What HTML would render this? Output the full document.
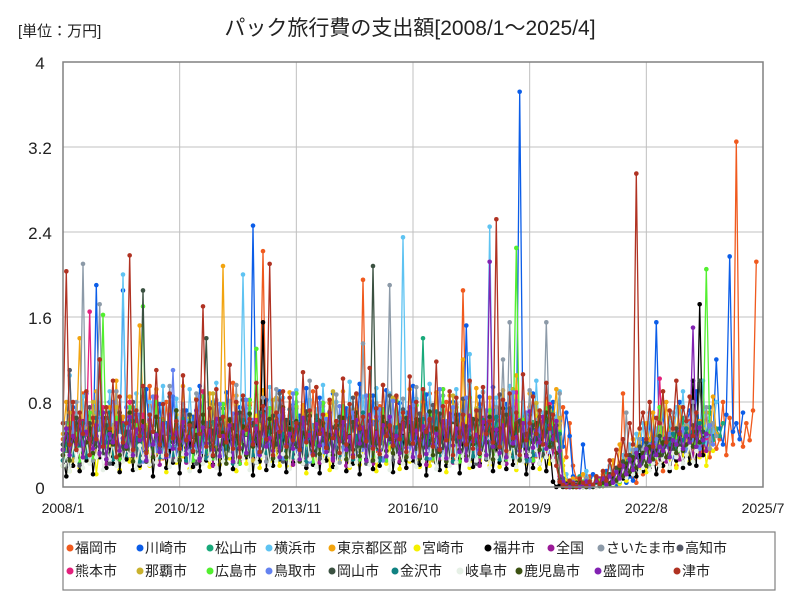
<!DOCTYPE html>
<html><head><meta charset="utf-8">
<style>
body{margin:0;background:#fff;}
#wrap{position:relative;width:800px;height:600px;overflow:hidden;font-family:"Liberation Sans Narrow","Liberation Sans","Noto Sans CJK JP",sans-serif;}
</style></head>
<body>
<div id="wrap">
<svg id="svg" width="800" height="600" xmlns="http://www.w3.org/2000/svg"></svg>
</div>
<script>
const seriesNames=["福岡市","川崎市","松山市","横浜市","東京都区部","宮崎市","福井市","全国","さいたま市","高知市","熊本市","那覇市","広島市","鳥取市","岡山市","金沢市","岐阜市","鹿児島市","盛岡市","津市"];
const seriesColors=["#f05a1e","#0b5de8","#19a97a","#5ec3f2","#f2a40f","#f5f000","#000000","#9b1a98","#8c9aa8","#545866","#e3207c","#c9b22e","#52ef2f","#6482f0","#3b5141","#108282","#e6f0e6","#3c5212","#8222b2","#b03222"];
const xTickLabels=["2008/1","2010/12","2013/11","2016/10","2019/9","2022/8","2025/7"];
const yTickLabels=["0","0.8","1.6","2.4","3.2","4"];
const yTickValues=[0,0.8,1.6,2.4,3.2,4];
// values in units of 0.01 万円, monthly from 2008/1
const s0=[45,30,52,20,60,35,88,40,25,55,30,70,48,22,65,38,90,42,28,50,33,75,44,26,58,36,95,40,30,62,27,80,45,35,55,29,70,48,24,66,38,85,41,32,57,30,72,46,25,60,36,98,43,28,54,34,77,45,31,59,222,40,29,63,37,82,44,27,52,33,74,47,30,58,35,90,41,26,61,38,79,45,32,56,30,71,48,28,65,36,195,43,29,53,34,76,46,31,58,37,84,42,27,60,33,73,45,30,57,35,88,40,28,62,37,80,44,26,55,32,185,47,31,59,36,78,43,29,54,34,70,46,30,61,38,92,41,27,56,33,75,45,29,58,35,83,52,30,66,41,75,28,60,20,8,4,2,5,10,3,0,6,12,4,2,8,15,5,88,6,20,10,4,30,12,25,18,40,22,35,15,48,28,55,20,38,45,30,62,25,50,42,33,70,28,58,36,45,80,30,65,40,325,52,38,60,44,72,212];
const s1=[35,60,28,75,40,55,30,88,45,25,190,38,62,30,80,42,58,33,185,48,27,70,36,65,30,92,44,55,32,78,40,60,29,85,47,52,35,72,38,66,31,95,43,57,30,80,41,63,28,89,46,54,34,75,39,68,32,246,45,56,33,82,40,61,30,90,45,55,35,77,38,67,31,93,42,58,29,84,41,62,33,88,46,53,36,74,40,69,30,97,44,57,31,86,39,64,28,91,47,52,35,79,38,70,32,95,43,59,30,87,41,65,29,92,46,54,34,80,39,68,31,152,44,58,33,85,40,63,30,94,45,56,36,78,38,71,32,372,43,60,30,88,41,66,29,55,33,80,45,62,38,70,48,10,5,2,40,8,3,12,6,2,4,15,3,8,2,5,20,4,10,6,30,15,45,25,60,35,155,40,70,30,50,65,45,80,38,58,72,42,90,50,62,35,75,48,120,55,40,68,217,52,60,45,70];
const s2=[25,50,30,45,60,22,40,55,35,70,28,48,62,33,42,58,27,52,66,30,45,60,35,50,72,28,44,57,38,64,31,49,70,26,55,41,63,34,47,59,29,53,68,32,46,61,36,51,74,27,43,56,39,65,30,48,69,33,54,42,62,35,46,58,28,52,67,31,45,60,37,50,73,29,44,57,38,63,32,49,71,26,55,40,64,34,47,59,30,53,66,33,46,61,36,51,72,28,43,56,39,65,31,48,70,33,54,42,140,35,46,58,28,52,67,31,45,60,37,50,73,29,44,57,38,63,32,49,71,26,55,40,64,34,47,59,30,53,66,33,46,61,36,40,62,28,55,70,33,48,8,3,0,5,2,10,4,0,6,3,8,2,5,12,4,15,6,20,10,25,15,30,20,40,25,35,45,28,50,38,55,30,60,42,48,35,65,40,52,45,58,38,62,50,70,44,55,48,60];
const s3=[60,35,105,40,70,30,85,45,55,32,78,42,65,38,90,48,58,34,200,44,68,36,88,50,62,33,80,46,72,39,95,41,57,35,83,49,66,31,92,43,60,37,86,47,74,34,98,45,63,36,81,50,69,32,200,44,58,38,87,46,71,33,94,42,64,35,84,48,67,31,91,44,59,37,82,47,73,34,96,43,62,36,80,49,68,32,99,41,57,38,85,46,70,33,93,45,61,35,88,48,66,31,235,43,60,37,83,47,72,34,97,44,63,36,86,50,69,32,92,42,58,38,125,46,70,33,90,45,245,35,84,48,67,31,95,44,59,37,80,47,73,34,100,45,70,38,85,52,66,90,5,12,2,6,0,8,3,15,4,2,10,5,3,8,20,6,12,4,30,10,40,20,50,35,60,28,70,40,55,30,80,45,65,38,75,50,90,42,60,55,70,48,100,40,65,52,80];
const s4=[50,80,30,65,45,140,35,70,55,28,90,40,60,32,75,48,100,38,66,30,85,44,58,152,78,42,62,34,92,46,56,31,80,40,68,36,95,45,57,33,83,47,64,35,88,42,59,30,208,44,61,37,86,46,63,34,79,41,60,32,91,48,65,35,84,43,58,30,89,45,62,36,77,42,67,33,94,47,56,31,82,44,60,35,90,41,63,32,87,46,57,34,81,43,66,30,96,45,59,36,85,42,61,33,92,48,58,31,80,44,64,35,89,41,62,32,86,46,57,34,120,43,65,30,93,45,60,36,84,42,63,33,91,48,58,31,105,44,61,35,88,41,59,66,38,80,45,57,92,40,20,6,2,8,0,4,12,3,6,2,10,5,15,8,3,25,6,40,12,30,20,45,35,55,25,60,40,70,32,50,45,80,38,65,52,75,42,58,48,90,40,62,55,70,45,85,50];
const s5=[20,40,15,35,50,18,30,45,25,60,12,38,55,22,42,28,65,16,36,48,24,52,30,18,44,58,20,34,46,26,62,14,40,53,23,37,29,66,17,33,49,25,56,31,19,43,60,21,35,47,27,63,15,39,54,22,41,28,67,18,32,50,24,57,30,20,45,59,19,36,46,26,64,13,38,52,23,42,29,68,16,34,48,25,55,31,18,44,61,21,33,47,27,62,15,40,53,22,37,28,65,17,35,49,24,58,30,19,43,60,20,36,46,26,63,14,39,51,23,41,29,66,18,32,50,25,56,31,20,45,58,19,34,47,27,64,16,38,52,22,42,28,67,17,30,48,22,55,35,60,25,3,0,2,5,0,1,4,2,0,3,6,1,8,2,4,10,3,15,6,20,12,25,18,30,14,35,22,28,40,20,32,26,45,18,38,30,50,24,36,42,28,55,20,40,34];
const s6=[30,10,45,20,55,15,38,25,60,12,40,28,50,18,35,22,65,14,42,26,48,16,58,20,36,24,52,10,44,30,62,18,37,23,47,13,56,27,41,19,66,15,34,25,50,21,59,12,43,29,46,17,53,22,39,28,63,11,45,24,155,16,57,20,38,26,49,14,61,23,35,27,54,18,42,21,64,13,46,25,51,19,36,28,58,15,40,22,47,12,60,26,44,17,55,20,37,29,62,14,41,23,48,18,56,25,39,21,65,11,43,27,50,16,53,20,36,24,60,13,45,28,46,19,58,22,40,26,63,15,38,23,52,17,57,21,42,29,48,12,35,18,50,22,44,15,40,5,0,2,0,3,1,0,4,2,0,1,5,0,3,6,2,8,4,10,5,15,8,20,12,25,10,30,15,22,18,35,12,28,20,40,15,32,25,45,18,38,22,100,20,172,30];
const s7=[40,25,55,32,48,20,62,35,45,28,58,30,50,22,65,38,42,26,60,33,52,24,68,36,46,29,57,31,49,21,63,37,44,27,59,34,53,23,66,39,41,25,61,32,51,20,64,35,47,28,56,30,50,22,67,38,43,26,58,33,54,24,62,36,45,29,60,31,48,21,65,37,42,27,57,34,52,23,68,39,46,25,59,32,50,20,63,35,44,28,61,30,53,22,66,38,41,26,56,33,49,24,64,36,47,29,58,31,51,21,62,37,43,27,60,34,55,23,67,39,45,25,57,32,52,20,65,35,42,28,59,30,48,22,63,38,46,26,61,33,54,24,45,30,58,36,50,27,62,10,3,0,5,2,0,4,1,6,0,3,2,8,1,5,12,4,18,8,22,12,28,16,35,20,30,25,40,22,38,28,45,24,42,30,50,26,36,32,48,28,55,30,44,34,50];
const s8=[30,60,20,45,80,35,210,40,55,25,70,172,48,30,65,38,90,28,52,42,75,33,58,22,85,45,60,35,72,28,50,40,95,30,62,36,78,25,55,44,88,32,68,27,53,41,82,34,63,29,57,38,96,26,66,43,74,31,59,37,84,24,51,45,92,33,70,28,56,39,80,30,64,42,100,27,54,35,76,32,61,46,87,23,58,40,73,36,67,29,135,44,52,31,79,38,62,34,190,26,69,41,83,30,57,37,94,28,65,45,71,33,60,39,86,25,53,42,78,36,72,29,98,31,56,44,89,27,64,35,75,40,120,30,155,38,81,34,59,43,91,26,63,70,35,155,48,62,30,88,8,2,0,5,3,0,2,8,4,1,0,6,3,10,2,15,5,20,10,70,15,35,25,45,30,55,20,40,35,60,28,50,45,70,32,58,40,65,38,80,42,55,50,75,36,60,48];
const s9=[25,45,110,30,60,20,50,35,75,28,40,55,32,65,22,48,38,70,26,52,42,80,30,45,58,24,68,36,50,28,62,40,85,25,55,34,72,30,47,60,22,66,38,53,27,78,33,44,57,29,64,37,49,26,82,31,46,59,23,70,35,51,28,63,41,88,24,54,36,74,29,48,61,21,67,39,52,27,79,32,43,56,30,65,38,50,25,84,33,47,58,22,71,36,53,28,62,40,86,26,55,35,73,31,45,60,23,69,37,50,27,77,34,44,57,29,66,39,51,24,83,32,48,59,22,72,35,54,28,64,41,87,25,56,37,75,30,46,61,24,68,38,52,60,32,48,70,38,55,28,8,2,0,4,1,0,3,6,0,2,5,1,7,3,10,4,15,8,20,12,28,18,35,22,30,26,40,24,45,30,38,35,50,28,42,40,55,32,48,44,60,36,52,48,58];
const s10=[35,55,25,70,40,30,60,45,165,28,50,38,75,32,58,42,65,26,48,36,80,30,55,44,68,24,52,40,85,34,62,28,47,39,72,31,57,43,66,25,50,37,90,33,60,27,46,41,78,29,54,35,69,23,53,45,82,36,63,30,44,38,74,32,59,42,67,27,49,34,88,28,56,40,71,24,51,46,79,33,64,31,45,37,76,30,58,43,70,26,48,35,86,29,61,39,73,25,52,44,81,34,65,32,47,36,77,28,57,41,68,27,50,38,92,30,62,33,75,24,55,45,84,35,60,29,46,40,72,31,59,42,66,26,53,37,89,28,63,39,70,25,49,38,62,30,78,44,56,34,5,1,0,3,0,2,5,1,0,4,2,6,1,3,8,2,12,5,18,10,24,14,30,20,26,35,22,40,28,102,32,45,30,38,48,34,55,36,42,50,40,60,44,46,52];
const s11=[30,50,70,25,45,60,35,55,40,80,28,48,65,38,52,42,75,30,58,44,68,26,50,62,36,56,46,85,32,54,64,40,49,43,72,29,60,47,66,27,53,59,37,57,45,88,33,51,63,39,48,41,78,31,61,48,67,25,55,58,35,59,44,82,34,52,65,38,46,42,76,28,62,49,69,26,54,57,36,58,45,90,32,50,64,40,47,43,73,30,60,46,70,27,56,61,37,55,48,84,33,53,66,39,49,41,77,29,63,47,68,25,51,59,35,57,44,86,31,52,62,38,48,42,74,30,61,50,71,26,55,58,36,56,46,92,34,54,63,40,50,43,79,44,60,35,72,50,40,65,5,2,0,4,1,3,0,6,2,1,5,3,8,2,12,4,16,8,20,12,26,18,32,22,28,36,24,42,30,38,90,34,45,40,50,36,48,44,55,40,52,48,60];
const s12=[20,40,60,30,50,25,45,35,70,28,55,38,162,32,48,42,65,26,52,36,75,30,58,44,170,24,50,40,80,34,62,28,46,38,72,30,56,42,68,25,53,37,85,33,60,27,47,41,78,29,54,35,69,22,51,45,82,36,130,30,44,38,74,32,59,42,67,27,49,34,88,28,56,40,71,24,51,46,79,33,64,31,45,37,76,30,58,43,70,26,48,35,86,29,61,39,73,25,52,44,81,34,65,32,47,36,77,28,57,41,68,27,50,38,92,30,62,33,75,24,55,45,84,35,60,29,46,40,72,31,59,42,66,26,53,37,225,28,63,39,70,25,49,58,36,74,42,60,30,52,4,1,0,3,0,2,5,1,0,4,2,6,1,3,8,2,12,5,18,10,24,14,30,20,26,35,22,40,28,75,32,45,30,38,48,34,55,36,42,50,40,60,44,205,52];
const s13=[30,45,25,60,35,50,40,70,28,55,38,65,32,48,42,80,26,52,36,75,30,58,44,68,24,50,40,85,34,62,28,46,38,110,30,56,42,68,25,53,37,85,33,60,27,47,41,78,29,54,35,69,22,51,45,82,36,63,30,44,38,74,32,59,42,67,27,49,34,88,28,56,40,71,24,51,46,79,33,64,31,45,37,76,30,58,43,70,26,48,35,86,29,61,39,73,25,52,44,81,34,65,32,47,36,77,28,57,41,68,27,50,38,92,30,62,33,75,24,55,45,84,35,60,29,46,40,72,31,59,42,66,26,53,37,89,28,63,39,70,25,49,30,55,40,68,33,50,62,38,6,2,0,4,1,0,3,6,0,2,5,1,7,3,10,4,15,8,20,12,28,18,35,22,30,26,40,24,45,30,38,35,50,28,42,40,55,32,48,44,60,36,52,48,58,40];
const s14=[40,25,55,30,65,35,50,28,60,45,38,120,32,58,42,48,26,70,36,52,30,62,44,40,185,24,55,38,66,34,47,28,60,42,50,32,57,25,68,39,45,30,61,140,35,53,27,64,41,49,33,58,23,70,37,46,29,60,43,51,31,56,26,67,40,48,34,63,28,54,38,59,22,71,36,45,30,62,44,50,32,55,27,66,42,47,35,61,29,57,39,52,24,208,38,44,31,60,45,49,33,58,25,65,41,46,36,63,27,53,40,56,23,69,37,48,28,59,43,51,30,57,26,64,42,47,34,60,29,54,38,55,24,68,36,45,32,62,44,50,31,58,45,66,30,52,75,40,58,7,2,0,3,1,0,5,2,0,4,1,6,3,8,2,12,6,18,10,24,15,30,20,26,38,22,42,28,36,32,48,30,40,45,34,55,38,44,50,42,58,46,100,52];
const s15=[25,40,55,30,45,35,60,28,50,38,65,32,48,42,70,26,52,36,58,30,62,44,46,24,55,40,68,34,50,28,60,38,47,30,56,42,64,25,53,37,72,33,49,27,61,41,54,29,66,35,51,22,58,45,63,36,48,30,57,38,69,32,52,42,59,27,50,34,73,28,55,40,62,24,51,46,67,33,53,31,60,37,49,30,58,43,65,26,48,35,70,29,54,39,62,25,52,44,66,34,56,32,47,36,61,28,57,41,64,27,50,38,71,30,55,33,60,24,55,45,68,35,53,29,46,40,63,31,59,42,66,26,53,37,74,28,56,39,60,25,49,30,54,48,35,62,40,55,30,50,6,2,0,4,1,3,0,5,2,1,4,2,7,3,10,4,14,8,20,12,26,18,32,22,28,36,24,42,30,38,34,45,40,50,36,48,44,55,40,52,48,60,42];
const s16=[20,30,15,40,25,35,18,45,22,38,28,50,16,34,26,42,20,48,24,36,30,52,17,39,27,44,21,55,23,33,29,46,19,41,25,37,31,49,15,43,28,35,22,53,26,40,18,47,24,32,30,51,20,38,27,45,16,54,23,36,29,42,21,48,25,34,31,50,17,44,28,39,22,56,26,37,19,46,24,33,30,52,18,40,27,43,20,49,23,35,29,41,21,55,25,38,31,47,16,45,28,36,22,53,26,42,19,50,24,34,30,48,17,39,27,44,20,57,23,37,29,43,21,51,25,35,31,46,18,40,28,38,22,54,26,41,19,49,24,33,30,47,35,22,44,28,38,25,40,5,1,0,2,0,1,3,0,2,1,4,0,2,5,1,8,3,12,6,15,9,20,12,24,14,18,28,16,22,30,20,26,34,18,32,28,36,22,30,38,24,34];
const s17=[30,50,25,45,35,60,28,42,55,32,48,38,65,26,52,40,58,30,46,36,70,24,54,44,62,34,50,28,66,38,47,30,56,42,72,25,53,37,60,33,49,27,68,41,54,29,58,35,51,22,63,45,48,36,57,30,69,38,52,32,59,42,64,27,50,34,75,28,55,40,62,24,51,46,67,33,53,31,60,37,49,30,58,43,65,26,48,35,70,29,54,39,62,25,52,44,66,34,56,32,47,36,61,28,57,41,64,27,50,38,71,30,55,33,60,24,55,45,68,35,53,29,46,40,63,31,59,42,66,26,53,37,74,28,56,39,60,25,49,30,54,42,60,35,52,70,38,48,32,5,1,0,3,0,2,4,1,0,3,2,5,1,4,8,3,12,6,18,10,22,14,28,18,24,32,20,38,26,34,30,42,28,36,40,32,48,34,40,45,38,52,42,46,50];
const s18=[35,55,30,48,40,62,28,52,45,36,58,32,70,26,50,42,60,34,46,38,66,30,54,44,57,25,63,40,49,33,59,28,68,36,51,43,61,31,47,39,72,27,56,41,53,35,64,29,48,45,58,24,69,37,52,32,60,42,55,30,67,38,46,34,62,28,73,40,50,36,57,26,65,44,49,31,59,39,54,33,70,27,52,43,61,35,47,30,63,41,56,25,68,38,51,34,58,29,66,42,48,32,60,37,75,28,53,44,57,31,64,40,50,36,62,27,69,39,55,33,59,26,67,43,49,35,61,30,212,38,54,32,58,28,65,41,47,34,60,29,71,37,53,42,66,36,58,45,62,34,5,2,0,4,1,0,3,5,1,2,6,3,8,2,10,4,14,8,20,12,26,16,32,20,28,36,24,40,30,38,34,46,28,44,40,52,36,48,42,150,38,56,44,50];
const s19=[60,203,40,80,35,70,50,90,30,65,45,120,38,75,55,100,28,85,42,60,218,35,72,48,95,32,68,52,110,40,78,30,88,46,62,36,105,44,58,34,82,50,170,38,74,30,92,48,66,42,115,36,80,28,86,54,64,40,98,33,76,45,210,30,70,52,90,38,84,44,60,35,108,42,72,30,94,50,68,37,82,46,62,32,102,40,78,28,88,55,66,43,112,36,74,31,96,48,58,39,86,45,70,33,104,41,80,29,92,52,64,38,118,35,76,44,90,30,84,47,68,40,100,36,72,32,94,50,62,42,252,38,82,34,88,46,70,30,106,44,60,85,50,72,40,98,55,68,20,5,2,0,6,3,0,8,4,1,5,2,10,3,15,6,25,12,35,20,45,30,60,40,295,55,70,45,80,38,65,60,90,42,72,55,100,50,75,62,85,48,70];
const seriesData=[s0,s1,s2,s3,s4,s5,s6,s7,s8,s9,s10,s11,s12,s13,s14,s15,s16,s17,s18,s19];
const NS="http://www.w3.org/2000/svg";
const svg=document.getElementById('svg');
const PL=63,PR=763,PT=62,PB=487;
const MONTHS=210;
function xScale(i){return PL+i*(PR-PL)/MONTHS;}
function yScale(v){return PB-v/4*(PB-PT);}
function mk(tag,attrs,parent){const e=document.createElementNS(NS,tag);for(const k in attrs)e.setAttribute(k,attrs[k]);(parent||svg).appendChild(e);return e;}
const ff='"Liberation Sans Narrow","Liberation Sans","Noto Sans CJK JP",sans-serif';
let t=mk('text',{x:18,y:36,'font-size':15,'font-family':ff,fill:'#222'});


t.textContent='[単位：万円]';
t=mk('text',{x:410,y:35,'font-size':21,'font-family':ff,fill:'#222','text-anchor':'middle'});


t.textContent='パック旅行費の支出額[2008/1～2025/4]';
const grid=mk('g',{});


yTickValues.forEach((v,k)=>{
  const y=yScale(v);
  mk('line',{x1:PL,x2:PR,y1:y,y2:y,stroke:'#c0c0c0','stroke-width':1},grid);
  const tl=mk('text',{x:40,y:y+7,'font-size':17,'font-family':ff,fill:'#222','text-anchor':'middle'});
  
  
  tl.textContent=yTickLabels[k];
});
xTickLabels.forEach((lab,k)=>{
  const x=xScale(k*35);
  mk('line',{x1:x,x2:x,y1:PT,y2:PB,stroke:'#c0c0c0','stroke-width':1},grid);
  const tl=mk('text',{x:x,y:513,'font-size':14,'font-family':ff,fill:'#222','text-anchor':'middle'});
  
  
  tl.textContent=lab;
});
const plot=mk('g',{});


seriesData.forEach((arr,si)=>{
  const g=mk('g',{},plot);
  
  
  const pts=arr.map((v,i)=>xScale(i).toFixed(1)+','+yScale(v/100).toFixed(1)).join(' ');
  const pl=mk('polyline',{points:pts,fill:'none',stroke:seriesColors[si],'stroke-width':1.3},g);
  
  
  arr.forEach((v,i)=>{
    const c=mk('circle',{cx:xScale(i),cy:yScale(v/100),r:2.3,fill:seriesColors[si]},g);
    
    
  });
});
const frame=mk('rect',{x:PL,y:PT,width:PR-PL,height:PB-PT,fill:'none',stroke:'#808080','stroke-width':1.5});


const lg=mk('g',{});


mk('rect',{x:63,y:532,width:712,height:58,fill:'#fff',stroke:'#808080','stroke-width':1.2},lg);
const legendX=[66,136,206,265,328,413,484,547,597,676,66,136,206,265,328,391,456,515,594,673];
seriesNames.forEach((n,i)=>{
  const row=i<10?0:1;
  const y=row?576:553;
  const e=mk('g',{},lg);
  
  
  mk('circle',{cx:legendX[i]+4,cy:y-5,r:3.5,fill:seriesColors[i]},e);
  const tx=mk('text',{x:legendX[i]+9,y:y,'font-size':14,'font-family':ff,fill:'#222'},e);
  tx.textContent=n;
});
</script>
</body></html>
